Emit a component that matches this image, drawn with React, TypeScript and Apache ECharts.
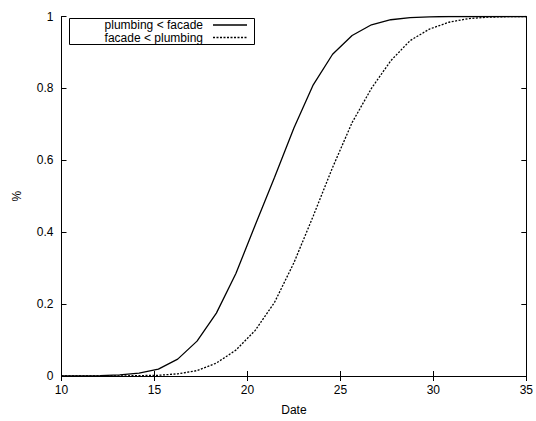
import React, { useEffect, useRef } from "react";
import * as echarts from "echarts";

const dates = [
  10, 11.04, 12.08, 13.13, 14.17, 15.21, 16.25, 17.29, 18.33, 19.38, 20.42, 21.46, 22.5,
  23.54, 24.58, 25.63, 26.67, 27.71, 28.75, 29.79, 30.83, 31.88, 32.92, 33.96, 35,
];
const plumbingBeforeFacade = [
  0, 0.0003, 0.001, 0.003, 0.008, 0.019, 0.047, 0.097, 0.175, 0.285, 0.42, 0.553, 0.69,
  0.81, 0.895, 0.947, 0.977, 0.991, 0.997, 0.999, 1, 1, 1, 1, 1,
];
const facadeBeforePlumbing = [
  0, 0, 0.0001, 0.0003, 0.001, 0.002, 0.006, 0.015, 0.036, 0.072, 0.127, 0.205, 0.315,
  0.445, 0.58, 0.705, 0.8, 0.877, 0.933, 0.965, 0.984, 0.994, 0.998, 0.9995, 1,
];
const seriesNames = ["plumbing < facade", "facade < plumbing"];
const xAxisName = "Date";
const yAxisName = "%";

const FONT = "'Liberation Sans', Arial, Helvetica, sans-serif";

export default function App() {
  const ref = useRef<HTMLDivElement>(null);
  useEffect(() => {
    if (!ref.current) return;
    const chart = echarts.init(ref.current, null, { renderer: "svg" });
    const toPairs = (ys: number[]) => dates.map((x, i) => [x, ys[i]]);
    const axisLine = { show: true, lineStyle: { color: "#000", width: 1 } };
    const tick = { show: true, inside: true, length: 5, lineStyle: { color: "#000", width: 1 } };
    chart.setOption({
      animation: false,
      backgroundColor: "#fff",
      textStyle: { fontFamily: FONT },
      grid: { left: 61.5, top: 16.5, width: 470, height: 368.5, containLabel: false },
      xAxis: [
        {
          type: "value",
          min: 10,
          max: 35,
          interval: 5,
          name: xAxisName,
          nameLocation: "middle",
          nameGap: 28,
          nameTextStyle: { color: "#000", fontSize: 12, fontFamily: FONT },
          axisLine,
          axisTick: tick,
          splitLine: { show: false },
          axisLabel: { color: "#000", fontSize: 12, fontFamily: FONT, margin: 8 },
        },
        {
          type: "value",
          position: "top",
          min: 10,
          max: 35,
          interval: 5,
          axisLine,
          axisTick: tick,
          splitLine: { show: false },
          axisLabel: { show: false },
        },
      ],
      yAxis: [
        {
          type: "value",
          min: 0,
          max: 1,
          interval: 0.2,
          name: yAxisName,
          nameLocation: "middle",
          nameRotate: 90,
          nameGap: 39,
          nameTextStyle: { color: "#000", fontSize: 12, fontFamily: FONT },
          axisLine,
          axisTick: tick,
          splitLine: { show: false },
          axisLabel: {
            color: "#000",
            fontSize: 12,
            fontFamily: FONT,
            margin: 8,
            formatter: (v: number) => String(Math.round(v * 10) / 10),
          },
        },
        {
          type: "value",
          position: "right",
          min: 0,
          max: 1,
          interval: 0.2,
          axisLine,
          axisTick: tick,
          splitLine: { show: false },
          axisLabel: { show: false },
        },
      ],
      series: [
        {
          name: seriesNames[0],
          type: "line",
          data: toPairs(plumbingBeforeFacade),
          showSymbol: false,
          lineStyle: { color: "#000", width: 1.3, type: "solid" },
        },
        {
          name: seriesNames[1],
          type: "line",
          data: toPairs(facadeBeforePlumbing),
          showSymbol: false,
          lineStyle: { color: "#000", width: 1.3, type: [2, 1.5] },
        },
      ],
      graphic: [
        {
          type: "rect",
          shape: { x: 69.5, y: 18.5, width: 185, height: 26 },
          style: { fill: "#fff", stroke: "#000", lineWidth: 1 },
          z: 10,
        },
        {
          type: "text",
          x: 203,
          y: 25,
          style: {
            text: seriesNames[0],
            fill: "#000",
            font: `12px ${FONT}`,
            align: "right",
            verticalAlign: "middle",
          },
          z: 11,
        },
        {
          type: "text",
          x: 203,
          y: 37.5,
          style: {
            text: seriesNames[1],
            fill: "#000",
            font: `12px ${FONT}`,
            align: "right",
            verticalAlign: "middle",
          },
          z: 11,
        },
        {
          type: "line",
          shape: { x1: 213, y1: 25, x2: 247, y2: 25 },
          style: { stroke: "#000", lineWidth: 1.3 },
          z: 11,
        },
        {
          type: "line",
          shape: { x1: 213, y1: 37.5, x2: 247, y2: 37.5 },
          style: { stroke: "#000", lineWidth: 1.3, lineDash: [2, 1.5] },
          z: 11,
        },
      ],
    });
    return () => chart.dispose();
  }, []);
  return (
    <div
      ref={ref}
      style={{ position: "fixed", left: 0, top: 0, width: 536, height: 421, background: "#fff" }}
    />
  );
}
